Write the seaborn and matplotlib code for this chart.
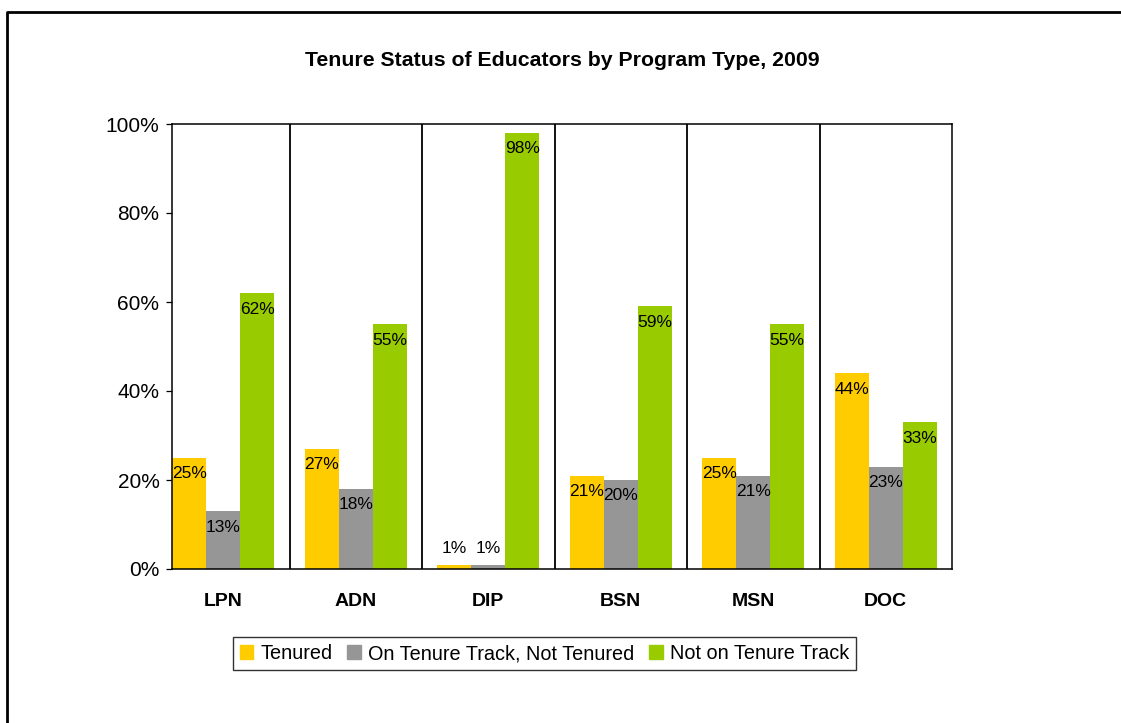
import numpy as np
import pandas as pd
import matplotlib
matplotlib.use("Agg")
import matplotlib.pyplot as plt
from matplotlib.lines import Line2D
import seaborn as sns

# --- data ---
programs = ["LPN", "ADN", "DIP", "BSN", "MSN", "DOC"]
statuses = ["Tenured", "On Tenure Track, Not Tenured", "Not on Tenure Track"]
tenured = [25, 27, 1, 21, 25, 44]
on_track = [13, 18, 1, 20, 21, 23]
not_on_track = [62, 55, 98, 59, 55, 33]
colors = ["#FFCC00", "#969696", "#99CC00"]
y_ticks = [0, 20, 40, 60, 80, 100]
title = "Tenure Status of Educators by Program Type, 2009"

df = pd.DataFrame({
    "program": programs * 3,
    "status": [statuses[0]] * 6 + [statuses[1]] * 6 + [statuses[2]] * 6,
    "pct": tenured + on_track + not_on_track,
})

sns.set_style("white")
plt.rcParams["font.family"] = ["Liberation Sans", "DejaVu Sans"]
plt.rcParams["text.color"] = "black"
plt.rcParams["xtick.color"] = "black"
plt.rcParams["ytick.color"] = "black"

fig = plt.figure(figsize=(11.21, 7.23), dpi=100)
ax = fig.add_axes([172 / 1121, 1 - 569 / 723, (952 - 172) / 1121, (569 - 124) / 723])

sns.barplot(data=df, x="program", y="pct", hue="status", hue_order=statuses,
            order=programs, palette=colors, width=0.77, saturation=1,
            linewidth=0, ax=ax, legend=False)

ax.set_xlim(-0.388, 5.5)
ax.set_ylim(0, 100)
ax.set_yticks(y_ticks)
ax.set_yticklabels([f"{t}%" for t in y_ticks], fontsize=15)
ax.set_xticks(range(len(programs)))
ax.set_xticklabels(programs, fontsize=14, fontweight="bold")
ax.tick_params(axis="x", length=0, pad=17)
ax.tick_params(axis="y", length=4, width=0.9, direction="out", pad=5, left=True)
ax.set_xlabel("")
ax.set_ylabel("")

for sp in ax.spines.values():
    sp.set_visible(True)
    sp.set_color("black")
    sp.set_linewidth(1.1)

# separators between program groups
for xb in np.arange(0.5, 5.0, 1.0):
    ax.axvline(xb, color="black", lw=1.3, zorder=3)

# value labels
for cont in ax.containers:
    for bar in cont:
        h = bar.get_height()
        xc = bar.get_x() + bar.get_width() / 2
        off = 11.5 if h < 5 else -11.5
        ax.annotate(f"{h:.0f}%", (xc, h), xytext=(0, off), textcoords="offset points",
                    ha="center", va="center", fontsize=12.5, color="black")

# legend
handles = [plt.Rectangle((0, 0), 1, 1, color=c) for c in colors]
leg = fig.legend(handles, statuses, loc="center", bbox_to_anchor=(544.5 / 1121, 1 - 653.5 / 723),
                 ncol=3, fontsize=14.3, frameon=True, fancybox=False, edgecolor="black",
                 handlelength=0.7, handleheight=0.7, handletextpad=0.35, columnspacing=0.75,
                 borderpad=0.35, borderaxespad=0)
leg.get_frame().set_linewidth(1.0)

fig.text(562 / 1121, 1 - 60 / 723, title, ha="center", va="center",
         fontsize=15.3, fontweight="bold")

# outer chart frame (left and top edges)
fig.add_artist(Line2D([7 / 1121, 7 / 1121, 1.0], [0.0, 1 - 12 / 723, 1 - 12 / 723],
                      transform=fig.transFigure, color="black", lw=2))

fig.savefig("out.png", dpi=100)
